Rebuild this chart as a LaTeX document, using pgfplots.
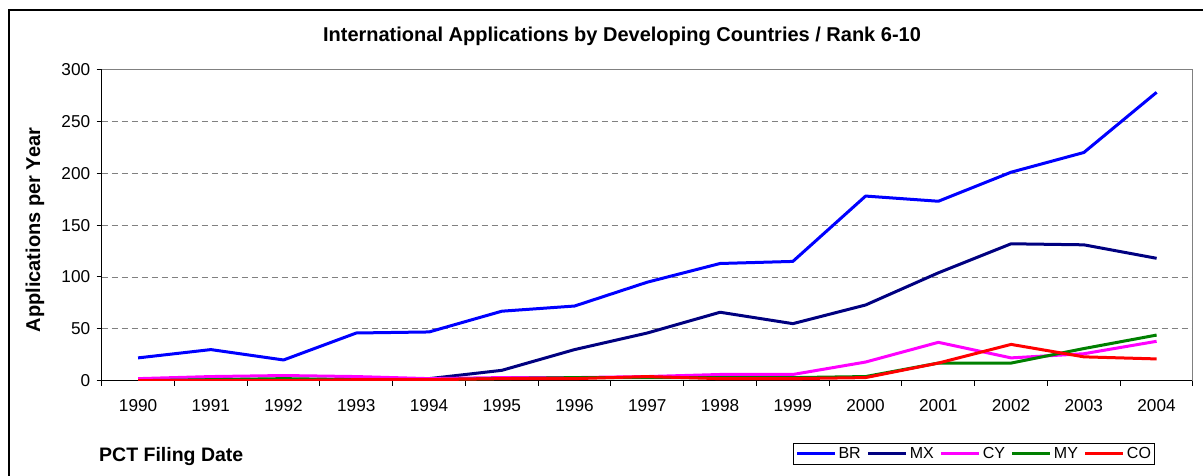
\documentclass[border=0pt]{standalone}
\usepackage{pgfplots}
\pgfplotsset{compat=1.18}
\usepackage{fontspec}
\setmainfont{Liberation Sans}
\definecolor{brc}{RGB}{0,0,255}
\definecolor{mxc}{RGB}{0,0,128}
\definecolor{cyc}{RGB}{255,0,255}
\definecolor{myc}{RGB}{0,128,0}
\definecolor{coc}{RGB}{255,0,0}
\begin{document}
\begin{tikzpicture}[x=1pt,y=1pt]
\useasboundingbox (0,0) rectangle (1203,-475);
\draw[line width=1.5pt] (9,-480) -- (9,-10) -- (1210,-10);
\node[font=\bfseries\fontsize{20}{24}\selectfont] at (622,-36) {International Applications by Developing Countries / Rank 6-10};
\node[rotate=90, font=\bfseries\fontsize{20}{24}\selectfont] at (35,-230) {Applications per Year};
\node[anchor=west, inner sep=0pt, font=\bfseries\fontsize{19.5}{23}\selectfont] at (99,-456) {PCT Filing Date};
\begin{axis}[
  at={(101.7pt,-380.7pt)}, anchor=south west,
  width=1091.3pt, height=311.2pt, scale only axis,
  xmin=1989.5, xmax=2004.5, ymin=0, ymax=300,
  xtick={1989.5,1990.5,...,2004.5}, xticklabels={},
  extra x ticks={1990,...,2004},
  extra x tick style={major tick length=0pt, grid=none, xticklabel style={yshift=-15pt}},
  ytick={0,50,...,300},
  yticklabel style={xshift=-3pt},
  /pgf/number format/1000 sep={},
  /pgf/number format/assume math mode=true,
  ticklabel style={font=\fontsize{17.2}{20}\selectfont},
  tick align=outside, major tick length=5pt,
  tick style={black, line width=1pt},
  axis x line*=bottom, axis y line*=left,
  axis line style={black, line width=1.2pt},
  ymajorgrids,
  major grid style={gray, dash pattern=on 6pt off 4pt, line width=0.8pt},
  legend style={at={(0.6335,-0.2002)}, anchor=north west, legend columns=5,
    draw=black, line width=1pt, font=\fontsize{16}{19}\selectfont,
    inner sep=2pt, /tikz/every even column/.append style={column sep=4pt}},
  legend image code/.code={\draw[#1, line width=3pt] (0pt,0pt) -- (38pt,0pt);},
  every axis plot/.append style={line width=3pt, line join=round},
]
\addplot[brc] coordinates {(1990,22)(1991,30)(1992,20)(1993,46)(1994,47)(1995,67)(1996,72)(1997,95)(1998,113)(1999,115)(2000,178)(2001,173)(2002,201)(2003,220)(2004,278)};
\addlegendentry{BR}
\addplot[mxc] coordinates {(1990,0)(1991,1)(1992,1)(1993,1)(1994,2)(1995,10)(1996,30)(1997,46)(1998,66)(1999,55)(2000,73)(2001,104)(2002,132)(2003,131)(2004,118)};
\addlegendentry{MX}
\addplot[cyc] coordinates {(1990,2)(1991,4)(1992,5)(1993,4)(1994,2)(1995,3)(1996,3)(1997,4)(1998,6)(1999,6)(2000,18)(2001,37)(2002,22)(2003,26)(2004,38)};
\addlegendentry{CY}
\addplot[myc] coordinates {(1990,0)(1991,1)(1992,2)(1993,1)(1994,1)(1995,2)(1996,3)(1997,3)(1998,3)(1999,3)(2000,4)(2001,17)(2002,17)(2003,31)(2004,44)};
\addlegendentry{MY}
\addplot[coc] coordinates {(1990,0)(1991,0)(1992,0)(1993,1)(1994,1)(1995,2)(1996,2)(1997,4)(1998,2)(1999,2)(2000,3)(2001,17)(2002,35)(2003,23)(2004,21)};
\addlegendentry{CO}
\draw[gray, line width=1.2pt] (rel axis cs:0,1) -- (rel axis cs:1,1) -- (rel axis cs:1,0);
\end{axis}
\end{tikzpicture}
\end{document}
